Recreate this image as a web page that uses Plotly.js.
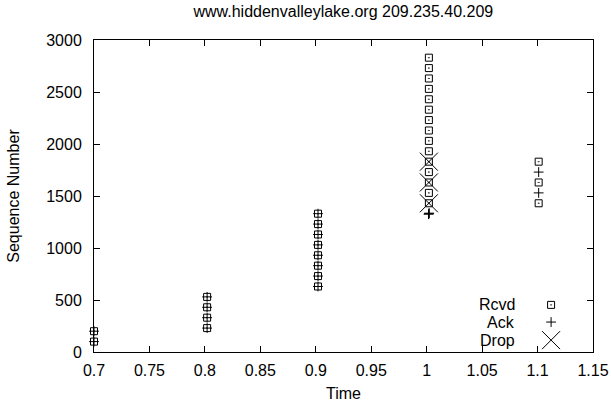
<!DOCTYPE html>
<html>
<head>
<meta charset="utf-8">
<script src="https://cdn.plot.ly/plotly-3.0.1.min.js"></script>
<style>
  html, body { margin: 0; padding: 0; background: #fff; }
  #chart { width: 611px; height: 407px; }
</style>
</head>
<body>
<div id="chart"></div>
<script>
// Packet trace for www.hiddenvalleylake.org: received segments, acks and drops
const rcvdTime = [0.7, 0.7,
  0.802, 0.802, 0.802, 0.802,
  0.902, 0.902, 0.902, 0.902, 0.902, 0.902, 0.902, 0.902,
  1.002, 1.002, 1.002, 1.002, 1.002, 1.002, 1.002, 1.002,
  1.002, 1.002, 1.002, 1.002, 1.002, 1.002, 1.002,
  1.101, 1.101, 1.101];
const rcvdSeq = [100, 200,
  230, 330, 430, 530,
  630, 730, 830, 930, 1030, 1130, 1230, 1330,
  1430, 1530, 1630, 1730, 1830, 1930, 2030, 2130,
  2230, 2330, 2430, 2530, 2630, 2730, 2830,
  1430, 1630, 1830];

const ackTime = [0.7, 0.7,
  0.802, 0.802, 0.802, 0.802,
  0.902, 0.902, 0.902, 0.902, 0.902, 0.902, 0.902, 0.902,
  1.0017, 1.002, 1.0023,
  1.101, 1.101];
const ackSeq = [100, 200,
  230, 330, 430, 530,
  630, 730, 830, 930, 1030, 1130, 1230, 1330,
  1325, 1330, 1335,
  1530, 1730];

const dropTime = [1.002, 1.002, 1.002];
const dropSeq = [1430, 1630, 1830];

const legendNames = ['Rcvd', 'Ack', 'Drop'];

const xTickStep = 0.05;
const yTickStep = 500;

const ink = '#000';
const font = 'Liberation Sans, Arial, Helvetica, sans-serif';

const markers = [
  {symbol: 'square-open-dot', size: 7, line: {color: '#222', width: 1}},
  {symbol: 'cross-thin-open', size: 7, line: {color: ink, width: 1}},
  {symbol: 'x-thin-open', size: 18, line: {color: ink, width: 1}}
];

const series = [
  [rcvdTime, rcvdSeq],
  [ackTime, ackSeq],
  [dropTime, dropSeq]
];

const traces = series.map((s, i) => ({
  type: 'scatter', mode: 'markers',
  x: s[0], y: s[1], name: legendNames[i],
  marker: Object.assign({color: ink}, markers[i]),
  cliponaxis: false, showlegend: false, hoverinfo: 'skip'
}));

// key samples, placed to the right of right-justified labels
const keyX = 0.916;
const keyY = [0.151, 0.096, 0.038];
legendNames.forEach((n, i) => {
  traces.push({
    type: 'scatter', mode: 'markers', xaxis: 'x2', yaxis: 'y2',
    x: [keyX], y: [keyY[i]],
    marker: Object.assign({color: ink}, markers[i]),
    showlegend: false, hoverinfo: 'skip'
  });
});

const annotations = legendNames.map((n, i) => ({
  xref: 'x2', yref: 'y2', x: 0.848, y: keyY[i],
  text: n, showarrow: false, xanchor: 'right', yanchor: 'middle',
  font: {family: font, size: 16, color: ink}
}));

const layout = {
  width: 611, height: 407,
  margin: {l: 94, r: 18, t: 40, b: 55},
  paper_bgcolor: '#fff', plot_bgcolor: '#fff',
  showlegend: false,
  font: {family: font, size: 16, color: ink},
  title: {
    text: 'www.hiddenvalleylake.org 209.235.40.209',
    font: {family: font, size: 16, color: ink},
    x: 0.562, xanchor: 'center', y: 0.972, yanchor: 'middle'
  },
  xaxis: {
    range: [0.7, 1.15], dtick: xTickStep, tick0: 0.7,
    showgrid: false, zeroline: false,
    showline: true, linecolor: ink, linewidth: 1, mirror: 'ticks',
    ticks: 'inside', ticklen: 6, tickcolor: ink,
    ticklabelstandoff: 4,
    tickfont: {family: font, size: 16, color: ink},
    title: {text: 'Time', font: {family: font, size: 16, color: ink}, standoff: 9}
  },
  yaxis: {
    range: [0, 3000], dtick: yTickStep, tick0: 0,
    showgrid: false, zeroline: false,
    showline: true, linecolor: ink, linewidth: 1, mirror: 'ticks',
    ticks: 'inside', ticklen: 6, tickcolor: ink,
    ticklabelstandoff: 8,
    tickfont: {family: font, size: 16, color: ink},
    title: {text: 'Sequence Number', font: {family: font, size: 16, color: ink}, standoff: 22}
  },
  xaxis2: {range: [0, 1], overlaying: 'x', visible: false, fixedrange: true},
  yaxis2: {range: [0, 1], overlaying: 'y', visible: false, fixedrange: true},
  annotations: annotations
};

Plotly.newPlot('chart', traces, layout, {displayModeBar: false, staticPlot: true});
</script>
</body>
</html>
